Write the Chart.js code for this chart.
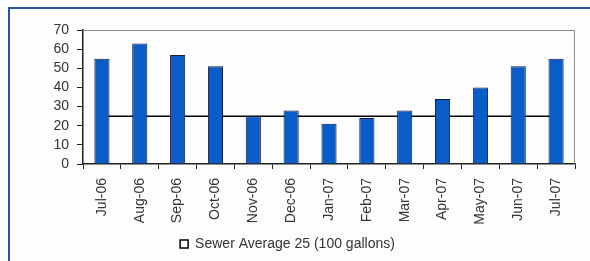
<!DOCTYPE html>
<html>
<head>
<meta charset="utf-8">
<script src="https://cdn.jsdelivr.net/npm/chart.js@4.4.1/dist/chart.umd.min.js"></script>
<style>
  html, body { margin: 0; padding: 0; background: #fdfdfd; }
  .frame {
    position: absolute; left: 8px; top: 7px; width: 620px; height: 300px;
    border-left: 2px solid #2f4f9f; border-top: 2px solid #2f4f9f;
  }
  .wrap { position: absolute; left: 0; top: 0; width: 590px; height: 261px; }
</style>
</head>
<body>
<div class="frame"></div>
<div class="wrap"><canvas id="myChart" width="590" height="261"></canvas></div>
<script>
const months = ['Jul-06', 'Aug-06', 'Sep-06', 'Oct-06', 'Nov-06', 'Dec-06', 'Jan-07',
                'Feb-07', 'Mar-07', 'Apr-07', 'May-07', 'Jun-07', 'Jul-07'];
const usage = [55, 63, 57, 51, 25, 28, 21, 24, 28, 34, 40, 51, 55];
const sewerAvg = [25, 25, 25, 25, 25, 25, 25, 25, 25, 25, 25, 25, 25];
const yTicks = [0, 10, 20, 30, 40, 50, 60, 70];

const txt = '#333';
const font = { family: 'Liberation Sans, Arial, sans-serif', size: 14 };

// gray top/right edge of the plot area
const plotEdge = {
  id: 'plotEdge',
  beforeDatasetsDraw(chart) {
    const { ctx, chartArea: a } = chart;
    ctx.save();
    ctx.strokeStyle = '#8a8a8a';
    ctx.lineWidth = 1;
    ctx.beginPath();
    ctx.moveTo(a.left, a.top + 0.5);
    ctx.lineTo(a.right - 0.5, a.top + 0.5);
    ctx.lineTo(a.right - 0.5, a.bottom);
    ctx.stroke();
    ctx.restore();
  }
};

const ctx = document.getElementById('myChart');

new Chart(ctx, {
  type: 'bar',
  data: {
    labels: months,
    datasets: [{
      label: 'Usage',
      data: usage,
      backgroundColor: '#0a5cc8',
      borderColor: '#101c40',
      borderWidth: 1,
      categoryPercentage: 1,
      barPercentage: 0.4,
      order: 0
    }, {
      type: 'line',
      label: 'Sewer Average 25 (100 gallons)',
      data: sewerAvg,
      borderColor: '#000',
      backgroundColor: '#fff',
      borderWidth: 1.5,
      pointRadius: 0,
      tension: 0,
      order: 1
    }]
  },
  options: {
    responsive: false,
    animation: false,
    layout: { padding: { left: 0, top: 30, right: 15, bottom: 0 } },
    plugins: {
      tooltip: { enabled: false },
      legend: {
        position: 'bottom',
        labels: {
          filter: (item) => item.datasetIndex === 1,
          boxWidth: 8,
          boxHeight: 8,
          padding: 1,
          color: txt,
          font: font
        }
      }
    },
    scales: {
      x: {
        offset: true,
        afterFit: (s) => { s.height = 72; },
        grid: { offset: true, drawOnChartArea: false, tickLength: 5, color: '#222' },
        border: { color: '#222', width: 1.5 },
        ticks: { color: txt, font: font, minRotation: 90, maxRotation: 90, padding: 9 }
      },
      y: {
        min: 0,
        max: 70,
        afterFit: (s) => { s.width = 83; },
        afterBuildTicks: (s) => { s.ticks = yTicks.map(v => ({ value: v })); },
        grid: { drawOnChartArea: false, tickLength: 6, color: '#222' },
        border: { color: '#222', width: 1.5 },
        ticks: { color: txt, font: font, padding: 8, autoSkip: false }
      }
    }
  },
  plugins: [plotEdge]
});
</script>
</body>
</html>
